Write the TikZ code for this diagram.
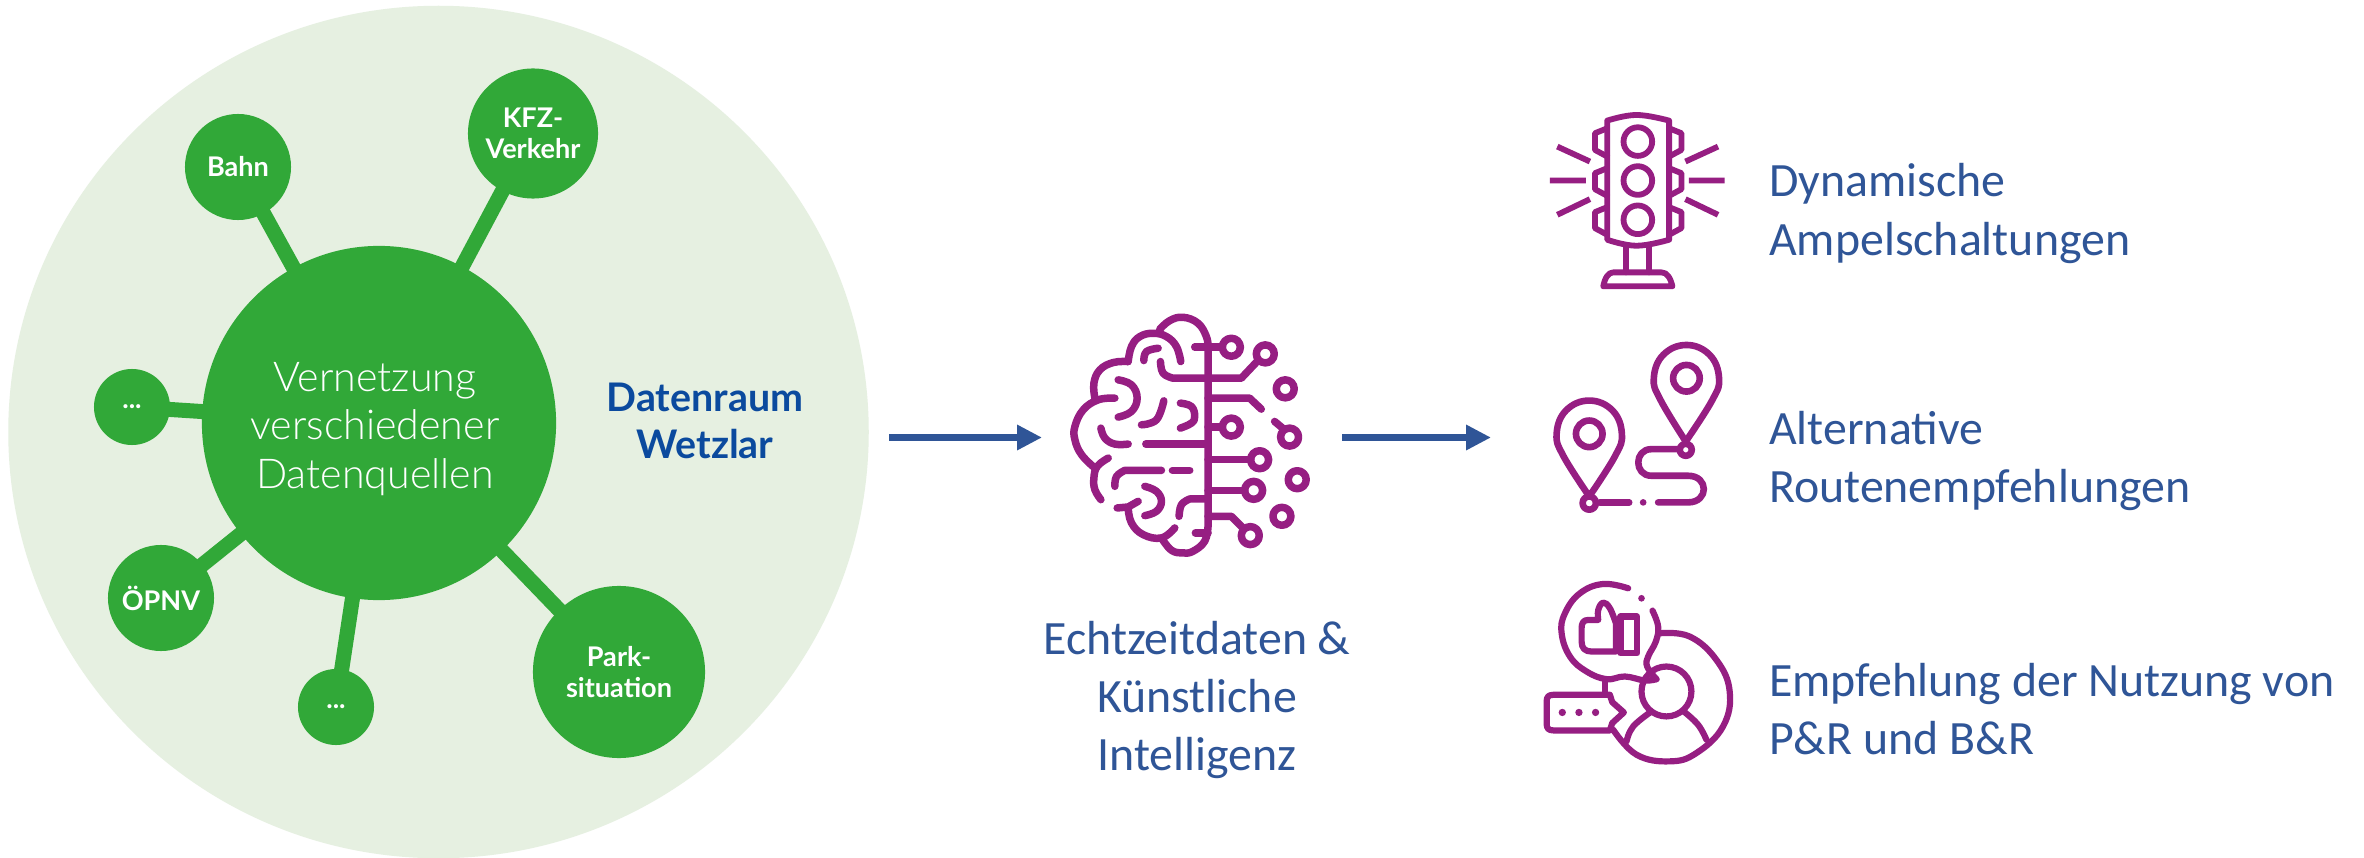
\documentclass[tikz,border=0pt]{standalone}
\usepackage{fontspec}
\setmainfont{Carlito}
\newfontfamily\latofont{Lato}
\newfontfamily\latolight{Lato Light}
\usetikzlibrary{arrows.meta,shapes.geometric}
\definecolor{gbg}{HTML}{E6F0E1}
\definecolor{gmain}{HTML}{31A838}
\definecolor{raumblue}{HTML}{0B4A9E}
\definecolor{offblue}{HTML}{2F5597}
\definecolor{icon}{HTML}{961E82}
\tikzset{
  hub/.style={circle,fill=gmain,minimum size=#1,inner sep=0pt,text=white,align=center,
    font=\latofont\bfseries\fontsize{7.7}{8.9}\selectfont},
  spoke/.style={draw=gmain,line width=0.15cm,shorten <=-3pt,shorten >=-3pt},
  flow/.style={draw=offblue,line width=0.07cm,-{Triangle[length=0.25cm,width=0.24cm]}},
  caption/.style={text=offblue,inner sep=0pt,font=\fontsize{13.6}{16.5}\selectfont},
  ico/.style={draw=icon,line width=#1,line cap=round,line join=round},
  ico/.default=0.075cm,
  sm/.style={smooth,tension=0.7}
}
\begin{document}
\begin{tikzpicture}[x=0.01cm,y=-0.01cm]
\useasboundingbox (0,0) rectangle (2364,858);
\fill[white] (0,0) rectangle (2364,858);
\node[ellipse,fill=gbg,minimum width=8.6cm,minimum height=8.52cm,inner sep=0pt] (raum) at (438.5,432) {};
\node[hub=3.54cm] (core) at (379,423) {};
\node[text=white,align=center,inner sep=0pt,font=\latolight\fontsize{11.7}{13.8}\selectfont] (corelabel) at (375,429) {Vernetzung\\verschiedener\\Datenquellen};
\node[hub=1.06cm] (bahn) at (238,167) {Bahn};
\node[hub=1.30cm] (kfz) at (533,133.5) {KFZ-\\Verkehr};
\node[hub=0.76cm] (dotsa) at (132,407) {...};
\node[hub=1.06cm] (oepnv) at (161,598) {ÖPNV};
\node[hub=0.76cm] (dotsb) at (336,707) {...};
\node[hub=1.72cm] (park) at (619,672) {Park-\\situation};
\draw[spoke] (core) -- (bahn);
\draw[spoke] (core) -- (kfz);
\draw[spoke] (core) -- (dotsa);
\draw[spoke] (core) -- (oepnv);
\draw[spoke] (core) -- (dotsb);
\draw[spoke] (core) -- (park);
\node[text=raumblue,align=center,inner sep=0pt,font=\latofont\bfseries\fontsize{11.2}{13.6}\selectfont] (dr) at (705,421) {Datenraum\\Wetzlar};
\coordinate (a1s) at (889,437.5);
\coordinate (a1e) at (1042,437.5);
\coordinate (a2s) at (1342,437.5);
\coordinate (a2e) at (1491,437.5);
\draw[flow] (a1s) -- (a1e);
\draw[flow] (a2s) -- (a2e);
\node[caption,align=center] (ki) at (1197,700) {Echtzeitdaten \&\\Künstliche\\Intelligenz};
\node[caption,align=left,anchor=west] (t1) at (1768.5,213.5) {Dynamische\\Ampelschaltungen};
\node[caption,align=left,anchor=west] (t2) at (1768.5,461) {Alternative\\Routenempfehlungen};
\node[caption,align=left,anchor=west] (t3) at (1768.5,709.5) {Empfehlung der Nutzung von\\P\&R und B\&R};
% brain
\begin{scope}[shift={(1020,290)},x=0.00333cm,y=-0.00333cm,ico]
\draw plot[sm] coordinates {(420,118)(450,92)(490,82)(535,100)(560,140)(565,170)} -- (565,710) -- plot[sm] coordinates {(565,710)(555,755)(520,785)(490,790)(455,782)(425,745)};
\draw plot[sm] coordinates {(483,215)(470,170)(440,140)(400,130)(360,140)(335,170)(325,215)};
\draw plot[sm] coordinates {(325,215)(280,218)(240,240)(222,280)(225,325)};
\draw plot[sm] coordinates {(285,325)(235,330)(190,360)(165,410)(165,450)(185,495)(225,535)};
\draw plot[sm] coordinates {(265,505)(232,530)(222,565)(225,600)(243,630)};
\draw (292,655) -- (325,652) -- (355,635);
\draw plot[sm] coordinates {(325,655)(335,700)(370,735)(425,745)(465,715)};
\draw plot[sm] coordinates {(372,212)(380,185)(415,175)};
\draw plot[sm] coordinates {(422,215)(430,250)(460,265)} -- (665,265) -- (715,212);
\draw (525,172) -- (608,172);
\draw (635,172) circle[radius=27] (737,192) circle[radius=27] (797,297) circle[radius=27] (635,412) circle[radius=27] (810,442) circle[radius=27] (720,510) circle[radius=27] (833,570) circle[radius=27] (702,602) circle[radius=27] (787,680) circle[radius=27] (692,738) circle[radius=27];
\draw plot[sm] coordinates {(295,270)(335,285)(352,325)(335,365)(295,382)};
\draw plot[sm] coordinates {(365,405)(410,390)(432,333)};
\draw plot[sm] coordinates {(482,340)(515,350)(525,380)(515,400)(482,415)};
\draw plot[sm] coordinates {(243,415)(255,445)(285,463)(325,463)};
\draw (378,463) -- (565,463);
\draw (565,325) -- (690,325) -- (725,358);
\draw (565,412) -- (608,412);
\draw (765,395) -- (795,420);
\draw (565,510) -- (693,510);
\draw (565,602) -- (675,602);
\draw (565,680) -- (635,680) -- (672,717);
\draw plot[sm] coordinates {(285,590)(290,560)(315,542)} -- (425,542);
\draw (458,542) -- (510,542);
\draw plot[sm] coordinates {(375,590)(410,605)(425,635)(410,665)(375,678)};
\draw plot[sm] coordinates {(478,680)(485,645)(510,628)} -- (565,628);
\draw (527,730) -- (565,730);
\end{scope}
% traffic light
\begin{scope}[shift={(1530,90)},x=0.00333cm,y=-0.00333cm,ico=0.058cm]
\draw plot[sm] coordinates {(232,92)(320,75)(418,92)} -- (418,450) -- plot[sm] coordinates {(418,450)(320,468)(232,450)} -- cycle;
\draw (324,155) circle[radius=43] (324,272) circle[radius=43] (324,390) circle[radius=43];
\draw (232,115) -- (195,130) -- (195,180) -- (232,200);
\draw (232,235) -- (195,250) -- (195,298) -- (232,318);
\draw (232,352) -- (195,367) -- (195,415) -- (232,435);
\draw (418,115) -- (455,130) -- (455,180) -- (418,200);
\draw (418,235) -- (455,250) -- (455,298) -- (418,318);
\draw (418,352) -- (455,367) -- (455,415) -- (418,435);
\begin{scope}[line cap=butt]
\draw (82,170) -- (180,215) (60,272) -- (168,272) (82,375) -- (180,328);
\draw (565,170) -- (467,215) (585,272) -- (477,272) (565,375) -- (467,328);
\end{scope}
\draw (288,468) -- (288,548) (358,468) -- (358,548);
\draw (220,590) .. controls (225,565) and (235,548) .. (250,548) -- (395,548) .. controls (412,548) and (422,565) .. (428,590) -- cycle;
\end{scope}
% route
\begin{scope}[shift={(1530,330)},x=0.00333cm,y=-0.00333cm,ico=0.066cm]
\draw plot[sm] coordinates {(468,335)(392,210)(372,145)(400,75)(470,45)(540,75)(568,145)(548,210)(468,335)};
\draw (470,145) circle[radius=40] (468,360) circle[radius=18];
\draw plot[sm] coordinates {(178,500)(100,378)(80,312)(108,242)(178,212)(248,242)(276,312)(256,378)(178,500)};
\draw (178,312) circle[radius=40] (178,520) circle[radius=20];
\draw (450,358) -- (365,358) .. controls (312,358) and (312,438) .. (365,438) -- (475,438) .. controls (538,438) and (538,518) .. (475,518) -- (385,518);
\draw (210,518) -- (298,518);
\fill[icon] (340,518) circle[radius=10];
\end{scope}
% recommendation
\begin{scope}[shift={(1530,570)},x=0.00333cm,y=-0.00333cm,ico=0.062cm]
\draw plot[sm] coordinates {(295,55)(220,42)(150,70)(105,130)(95,190)(120,260)(170,305)(230,328)(285,320)(345,332)(380,328)};
\draw plot[sm] coordinates {(368,122)(385,170)(378,215)(355,260)(352,290)(380,328)};
\fill[icon] (335,85) circle[radius=10];
\draw (258,245) -- (258,160) -- plot[sm] coordinates {(258,160)(240,115)(220,98)(205,120)(205,150)} -- (175,150) .. controls (160,150) and (155,160) .. (155,175) -- (155,215) .. controls (155,235) and (165,245) .. (185,245) -- cycle;
\draw (272,140) -- (322,140) -- (322,250) -- (272,250) -- cycle;
\draw (410,365) circle[radius=75];
\draw plot[sm] coordinates {(290,515)(310,470)(365,425)};
\draw plot[sm] coordinates {(530,510)(505,465)(462,425)};
\draw plot[sm] coordinates {(392,190)(480,200)(560,270)(600,365)(580,470)(500,550)(420,575)(320,555)(250,480)};
\draw (225,330) -- (225,375);
\draw (240,375) -- (70,375) .. controls (55,375) and (50,382) .. (50,395) -- (50,462) .. controls (50,475) and (55,482) .. (70,482) -- (240,482) -- (247,460) -- (282,428) -- (247,397) -- cycle;
\fill[icon] (97,428) circle[radius=11] (147,428) circle[radius=11] (197,428) circle[radius=11];
\end{scope}
\end{tikzpicture}
\end{document}
